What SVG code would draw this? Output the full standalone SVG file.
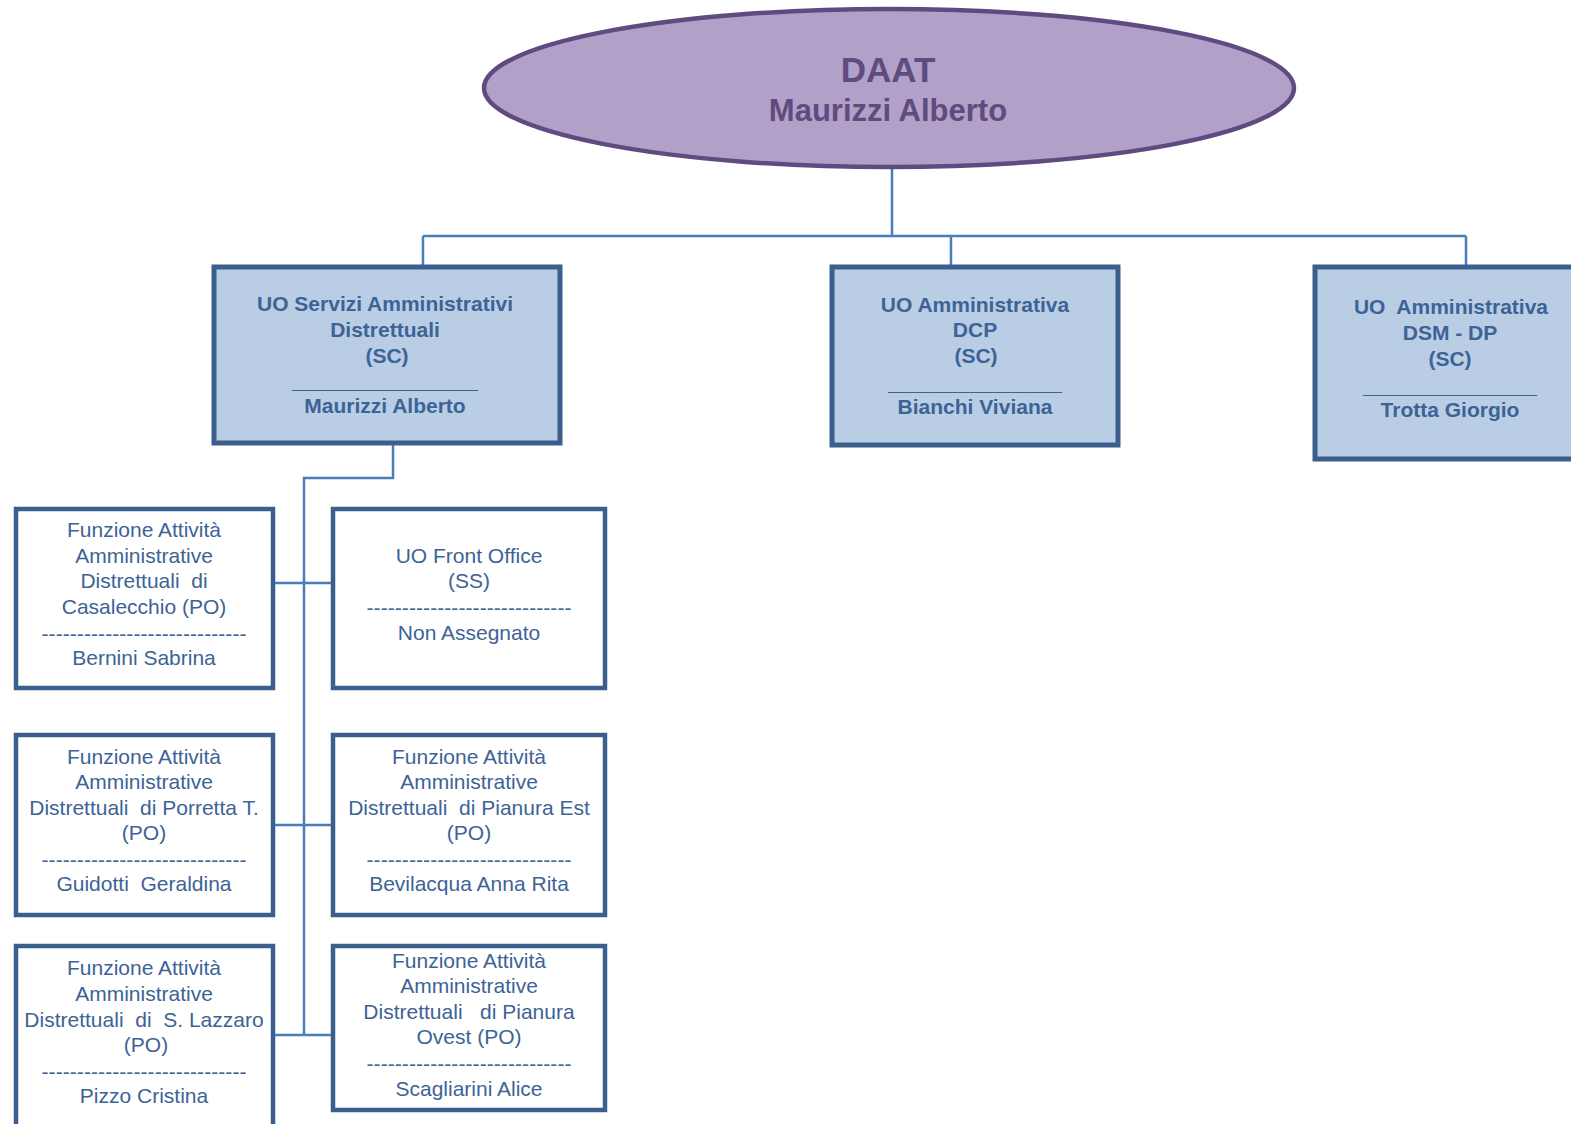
<svg xmlns="http://www.w3.org/2000/svg" width="1571" height="1124" viewBox="0 0 1571 1124">
<style>
.conn{stroke:#4a7ebb;stroke-width:2.5;fill:none}
.top{fill:#b9cde5;stroke:#3a5f8c;stroke-width:5}
.sub{fill:#ffffff;stroke:#3a5f8c;stroke-width:4.5}
text{font-family:"Liberation Sans",Arial,sans-serif;text-anchor:middle;white-space:pre}
.b{font-weight:bold;font-size:21px;fill:#3d6396}
.r{font-size:21px;fill:#3d6396}
.e{font-weight:bold;fill:#5f4b80}
</style>
<rect width="1571" height="1124" fill="#ffffff"/>
<g id="connectors">
<path class="conn" d="M892 168V236M423 236H1466M423 236V266M951 236V266M1466 236V266"/>
<path class="conn" d="M393 445V478H304V1035M274 583H332M274 825H332M274 1035H332"/>
</g>
<g id="daat">
<ellipse cx="889" cy="88" rx="405" ry="79" fill="#b1a0c7" stroke="#5f4b80" stroke-width="4.5"/>
<text class="e" x="888" y="82" font-size="35">DAAT</text>
<text class="e" x="888" y="121" font-size="31">Maurizzi Alberto</text>
</g>
<g id="uo-servizi">
<rect class="top" x="214" y="267" width="346" height="176"/>
<text class="b" x="385" y="311">UO Servizi Amministrativi</text>
<text class="b" x="385" y="337">Distrettuali</text>
<text class="b" x="387" y="363">(SC)</text>
<text class="b" x="385" y="388" textLength="186">________________</text>
<text class="b" x="385" y="413">Maurizzi Alberto</text>
</g>
<g id="uo-dcp">
<rect class="top" x="832" y="267" width="286" height="178"/>
<text class="b" x="975" y="312">UO Amministrativa</text>
<text class="b" x="975" y="337">DCP</text>
<text class="b" x="976" y="363">(SC)</text>
<text class="b" x="975" y="390" textLength="174">_______________</text>
<text class="b" x="975" y="414">Bianchi Viviana</text>
</g>
<g id="uo-dsm">
<rect class="top" x="1315" y="267" width="280" height="192"/>
<text class="b" x="1451" y="314">UO  Amministrativa</text>
<text class="b" x="1450" y="340">DSM - DP</text>
<text class="b" x="1450" y="366">(SC)</text>
<text class="b" x="1450" y="393" textLength="174">_______________</text>
<text class="b" x="1450" y="417">Trotta Giorgio</text>
</g>
<g id="casalecchio">
<rect class="sub" x="16" y="509" width="257" height="179"/>
<text class="r" x="144" y="537">Funzione Attività</text>
<text class="r" x="144" y="563">Amministrative</text>
<text class="r" x="144" y="588">Distrettuali  di</text>
<text class="r" x="144" y="614">Casalecchio (PO)</text>
<text class="r" x="144" y="641" textLength="205">-----------------------------</text>
<text class="r" x="144" y="665">Bernini Sabrina</text>
</g>
<g id="front-office">
<rect class="sub" x="333" y="509" width="272" height="179"/>
<text class="r" x="469" y="563">UO Front Office</text>
<text class="r" x="469" y="588">(SS)</text>
<text class="r" x="469" y="615" textLength="205">-----------------------------</text>
<text class="r" x="469" y="640">Non Assegnato</text>
</g>
<g id="porretta">
<rect class="sub" x="16" y="735" width="257" height="180"/>
<text class="r" x="144" y="764">Funzione Attività</text>
<text class="r" x="144" y="789">Amministrative</text>
<text class="r" x="144" y="815">Distrettuali  di Porretta T.</text>
<text class="r" x="144" y="840">(PO)</text>
<text class="r" x="144" y="867" textLength="205">-----------------------------</text>
<text class="r" x="144" y="891">Guidotti  Geraldina</text>
</g>
<g id="pianura-est">
<rect class="sub" x="333" y="735" width="272" height="180"/>
<text class="r" x="469" y="764">Funzione Attività</text>
<text class="r" x="469" y="789">Amministrative</text>
<text class="r" x="469" y="815">Distrettuali  di Pianura Est</text>
<text class="r" x="469" y="840">(PO)</text>
<text class="r" x="469" y="867" textLength="205">-----------------------------</text>
<text class="r" x="469" y="891">Bevilacqua Anna Rita</text>
</g>
<g id="lazzaro">
<rect class="sub" x="16" y="946" width="257" height="200"/>
<text class="r" x="144" y="975">Funzione Attività</text>
<text class="r" x="144" y="1001">Amministrative</text>
<text class="r" x="144" y="1027">Distrettuali  di  S. Lazzaro</text>
<text class="r" x="146" y="1052">(PO)</text>
<text class="r" x="144" y="1079" textLength="205">-----------------------------</text>
<text class="r" x="144" y="1103">Pizzo Cristina</text>
</g>
<g id="pianura-ovest">
<rect class="sub" x="333" y="946" width="272" height="164"/>
<text class="r" x="469" y="968">Funzione Attività</text>
<text class="r" x="469" y="993">Amministrative</text>
<text class="r" x="469" y="1019">Distrettuali   di Pianura</text>
<text class="r" x="469" y="1044">Ovest (PO)</text>
<text class="r" x="469" y="1071" textLength="205">-----------------------------</text>
<text class="r" x="469" y="1096">Scagliarini Alice</text>
</g>
</svg>
